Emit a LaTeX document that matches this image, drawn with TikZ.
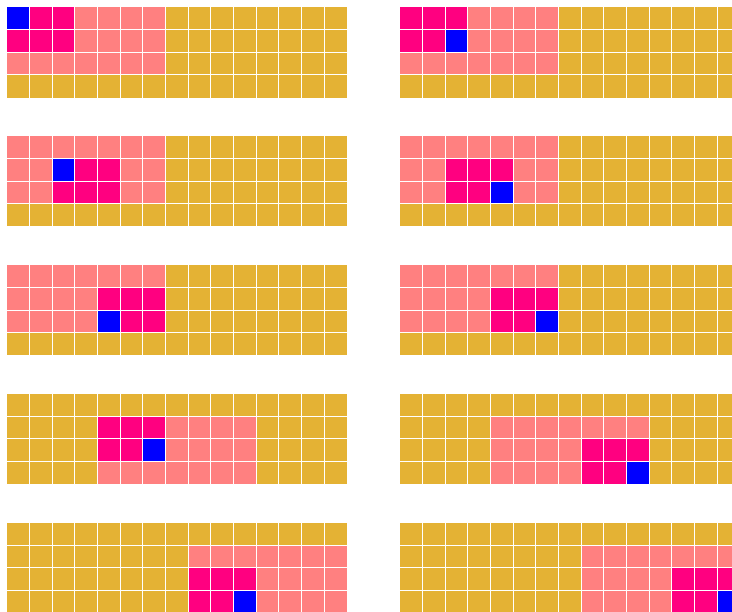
\documentclass[tikz,border=0pt]{standalone}
\usetikzlibrary{calc}
\definecolor{oromostaza}{HTML}{E4B234}
\definecolor{rosasalmon}{HTML}{FF8080}
\definecolor{rosamexicano}{HTML}{FF0080}
\definecolor{azulpuro}{HTML}{0000FF}
\colorlet{colFondo}{oromostaza}
\colorlet{colVentana}{rosasalmon}
\colorlet{colNucleo}{rosamexicano}
\colorlet{colPixel}{azulpuro}
\tikzset{
  panelRejilla/.style={x=22.65pt, y=-22.65pt},
  lineaRejilla/.style={draw=white, line width=1pt},
}
\begin{document}
\begin{tikzpicture}[x=1pt, y=-1pt]
    \useasboundingbox (0,0) rectangle (732,612);
    \clip (0,0) rectangle (732,612);
    \foreach \n/\vf/\vc/\nf/\nc/\pf/\pc in {0/0/0/0/0/0/0, 1/0/0/0/0/1/2,
        2/0/0/1/2/1/2, 3/0/0/1/2/2/4, 4/0/0/1/4/2/4, 5/0/0/1/4/2/6,
        6/1/4/1/4/2/6, 7/1/4/2/8/3/10, 8/1/8/2/8/3/10, 9/1/8/2/12/3/14} {
      \pgfmathsetmacro{\xo}{7+393*mod(\n,2)}
      \pgfmathsetmacro{\yo}{7+128.9*floor(\n/2)}
      \begin{scope}[shift={(\xo pt,-\yo pt)}, panelRejilla]
        \fill[colFondo] (0,0) rectangle (15,4);
        \fill[colVentana] (\vc,\vf) rectangle ++(7,3);
        \fill[colNucleo] (\nc,\nf) rectangle ++(3,2);
        \fill[colPixel] (\pc,\pf) rectangle ++(1,1);
        \foreach \i in {1,...,14} \draw[lineaRejilla] (\i,0) -- (\i,4);
        \foreach \j in {1,2,3} \draw[lineaRejilla] (0,\j) -- (15,\j);
      \end{scope}
    }
  \end{tikzpicture}
\end{document}
